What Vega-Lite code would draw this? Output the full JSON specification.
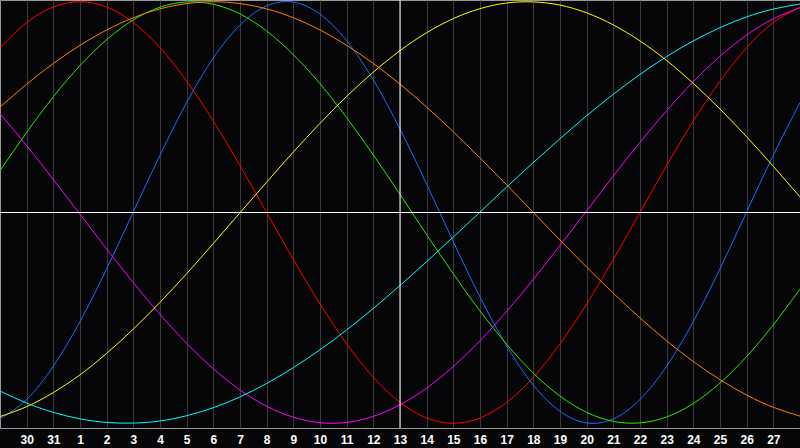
{
  "$schema": "https://vega.github.io/schema/vega-lite/v6.json",
  "width": 800,
  "height": 428,
  "autosize": "none",
  "padding": {"left": 0, "top": 0, "right": 0, "bottom": 20},
  "background": "#060608",
  "config": {
    "view": {"stroke": "#9a9a9a", "strokeWidth": 1, "fill": "#060608"},
    "axisX": {
      "grid": true, "gridColor": "#3a3a3a", "gridWidth": 1,
      "domain": false, "ticks": false, "tickSize": 0,
      "labelColor": "#ffffff", "labelFont": "Liberation Sans", "labelFontSize": 12, "labelFontWeight": "bold",
      "labelPadding": 15, "labelBaseline": "alphabetic", "labelFlush": false, "labelOverlap": false,
      "title": null
    }
  },
  "datasets": {
    "curves": [
      {"s":"Emotional","d":-1,"v":0.782},{"s":"Emotional","d":0,"v":0.901},{"s":"Emotional","d":1,"v":0.975},{"s":"Emotional","d":2,"v":1},{"s":"Emotional","d":3,"v":0.975},{"s":"Emotional","d":4,"v":0.901},{"s":"Emotional","d":5,"v":0.782},{"s":"Emotional","d":6,"v":0.623},{"s":"Emotional","d":7,"v":0.434},{"s":"Emotional","d":8,"v":0.223},{"s":"Emotional","d":9,"v":0},{"s":"Emotional","d":10,"v":-0.223},{"s":"Emotional","d":11,"v":-0.434},{"s":"Emotional","d":12,"v":-0.623},{"s":"Emotional","d":13,"v":-0.782},{"s":"Emotional","d":14,"v":-0.901},{"s":"Emotional","d":15,"v":-0.975},{"s":"Emotional","d":16,"v":-1},{"s":"Emotional","d":17,"v":-0.975},{"s":"Emotional","d":18,"v":-0.901},{"s":"Emotional","d":19,"v":-0.782},{"s":"Emotional","d":20,"v":-0.623},{"s":"Emotional","d":21,"v":-0.434},{"s":"Emotional","d":22,"v":-0.223},{"s":"Emotional","d":23,"v":0},{"s":"Emotional","d":24,"v":0.223},{"s":"Emotional","d":25,"v":0.434},{"s":"Emotional","d":26,"v":0.623},{"s":"Emotional","d":27,"v":0.782},{"s":"Emotional","d":28,"v":0.901},{"s":"Emotional","d":29,"v":0.975},
      {"s":"Physical","d":-1,"v":-0.979},{"s":"Physical","d":0,"v":-0.887},{"s":"Physical","d":1,"v":-0.729},{"s":"Physical","d":2,"v":-0.517},{"s":"Physical","d":3,"v":-0.267},{"s":"Physical","d":4,"v":0.003},{"s":"Physical","d":5,"v":0.272},{"s":"Physical","d":6,"v":0.522},{"s":"Physical","d":7,"v":0.733},{"s":"Physical","d":8,"v":0.889},{"s":"Physical","d":9,"v":0.98},{"s":"Physical","d":10,"v":0.998},{"s":"Physical","d":11,"v":0.941},{"s":"Physical","d":12,"v":0.815},{"s":"Physical","d":13,"v":0.629},{"s":"Physical","d":14,"v":0.396},{"s":"Physical","d":15,"v":0.134},{"s":"Physical","d":16,"v":-0.139},{"s":"Physical","d":17,"v":-0.401},{"s":"Physical","d":18,"v":-0.633},{"s":"Physical","d":19,"v":-0.819},{"s":"Physical","d":20,"v":-0.943},{"s":"Physical","d":21,"v":-0.998},{"s":"Physical","d":22,"v":-0.979},{"s":"Physical","d":23,"v":-0.887},{"s":"Physical","d":24,"v":-0.729},{"s":"Physical","d":25,"v":-0.517},{"s":"Physical","d":26,"v":-0.267},{"s":"Physical","d":27,"v":0.003},{"s":"Physical","d":28,"v":0.272},{"s":"Physical","d":29,"v":0.522},
      {"s":"Intellectual","d":-1,"v":0.199},{"s":"Intellectual","d":0,"v":0.38},{"s":"Intellectual","d":1,"v":0.549},{"s":"Intellectual","d":2,"v":0.697},{"s":"Intellectual","d":3,"v":0.82},{"s":"Intellectual","d":4,"v":0.914},{"s":"Intellectual","d":5,"v":0.974},{"s":"Intellectual","d":6,"v":0.999},{"s":"Intellectual","d":7,"v":0.988},{"s":"Intellectual","d":8,"v":0.942},{"s":"Intellectual","d":9,"v":0.861},{"s":"Intellectual","d":10,"v":0.749},{"s":"Intellectual","d":11,"v":0.611},{"s":"Intellectual","d":12,"v":0.45},{"s":"Intellectual","d":13,"v":0.273},{"s":"Intellectual","d":14,"v":0.086},{"s":"Intellectual","d":15,"v":-0.105},{"s":"Intellectual","d":16,"v":-0.291},{"s":"Intellectual","d":17,"v":-0.467},{"s":"Intellectual","d":18,"v":-0.625},{"s":"Intellectual","d":19,"v":-0.762},{"s":"Intellectual","d":20,"v":-0.871},{"s":"Intellectual","d":21,"v":-0.948},{"s":"Intellectual","d":22,"v":-0.991},{"s":"Intellectual","d":23,"v":-0.998},{"s":"Intellectual","d":24,"v":-0.97},{"s":"Intellectual","d":25,"v":-0.906},{"s":"Intellectual","d":26,"v":-0.809},{"s":"Intellectual","d":27,"v":-0.683},{"s":"Intellectual","d":28,"v":-0.533},{"s":"Intellectual","d":29,"v":-0.363},
      {"s":"Intuitive","d":-1,"v":0.469},{"s":"Intuitive","d":0,"v":0.317},{"s":"Intuitive","d":1,"v":0.156},{"s":"Intuitive","d":2,"v":-0.008},{"s":"Intuitive","d":3,"v":-0.173},{"s":"Intuitive","d":4,"v":-0.333},{"s":"Intuitive","d":5,"v":-0.483},{"s":"Intuitive","d":6,"v":-0.621},{"s":"Intuitive","d":7,"v":-0.741},{"s":"Intuitive","d":8,"v":-0.842},{"s":"Intuitive","d":9,"v":-0.919},{"s":"Intuitive","d":10,"v":-0.971},{"s":"Intuitive","d":11,"v":-0.997},{"s":"Intuitive","d":12,"v":-0.996},{"s":"Intuitive","d":13,"v":-0.967},{"s":"Intuitive","d":14,"v":-0.912},{"s":"Intuitive","d":15,"v":-0.833},{"s":"Intuitive","d":16,"v":-0.73},{"s":"Intuitive","d":17,"v":-0.608},{"s":"Intuitive","d":18,"v":-0.469},{"s":"Intuitive","d":19,"v":-0.317},{"s":"Intuitive","d":20,"v":-0.156},{"s":"Intuitive","d":21,"v":0.008},{"s":"Intuitive","d":22,"v":0.173},{"s":"Intuitive","d":23,"v":0.333},{"s":"Intuitive","d":24,"v":0.483},{"s":"Intuitive","d":25,"v":0.621},{"s":"Intuitive","d":26,"v":0.741},{"s":"Intuitive","d":27,"v":0.842},{"s":"Intuitive","d":28,"v":0.919},{"s":"Intuitive","d":29,"v":0.971},
      {"s":"Aesthetic","d":-1,"v":-0.968},{"s":"Aesthetic","d":0,"v":-0.921},{"s":"Aesthetic","d":1,"v":-0.854},{"s":"Aesthetic","d":2,"v":-0.77},{"s":"Aesthetic","d":3,"v":-0.668},{"s":"Aesthetic","d":4,"v":-0.553},{"s":"Aesthetic","d":5,"v":-0.426},{"s":"Aesthetic","d":6,"v":-0.29},{"s":"Aesthetic","d":7,"v":-0.147},{"s":"Aesthetic","d":8,"v":-0.001},{"s":"Aesthetic","d":9,"v":0.144},{"s":"Aesthetic","d":10,"v":0.287},{"s":"Aesthetic","d":11,"v":0.423},{"s":"Aesthetic","d":12,"v":0.551},{"s":"Aesthetic","d":13,"v":0.666},{"s":"Aesthetic","d":14,"v":0.768},{"s":"Aesthetic","d":15,"v":0.853},{"s":"Aesthetic","d":16,"v":0.92},{"s":"Aesthetic","d":17,"v":0.967},{"s":"Aesthetic","d":18,"v":0.994},{"s":"Aesthetic","d":19,"v":0.999},{"s":"Aesthetic","d":20,"v":0.984},{"s":"Aesthetic","d":21,"v":0.947},{"s":"Aesthetic","d":22,"v":0.89},{"s":"Aesthetic","d":23,"v":0.814},{"s":"Aesthetic","d":24,"v":0.721},{"s":"Aesthetic","d":25,"v":0.612},{"s":"Aesthetic","d":26,"v":0.491},{"s":"Aesthetic","d":27,"v":0.359},{"s":"Aesthetic","d":28,"v":0.219},{"s":"Aesthetic","d":29,"v":0.074},
      {"s":"Awareness","d":-1,"v":0.5},{"s":"Awareness","d":0,"v":0.609},{"s":"Awareness","d":1,"v":0.707},{"s":"Awareness","d":2,"v":0.793},{"s":"Awareness","d":3,"v":0.866},{"s":"Awareness","d":4,"v":0.924},{"s":"Awareness","d":5,"v":0.966},{"s":"Awareness","d":6,"v":0.991},{"s":"Awareness","d":7,"v":1},{"s":"Awareness","d":8,"v":0.991},{"s":"Awareness","d":9,"v":0.966},{"s":"Awareness","d":10,"v":0.924},{"s":"Awareness","d":11,"v":0.866},{"s":"Awareness","d":12,"v":0.793},{"s":"Awareness","d":13,"v":0.707},{"s":"Awareness","d":14,"v":0.609},{"s":"Awareness","d":15,"v":0.5},{"s":"Awareness","d":16,"v":0.383},{"s":"Awareness","d":17,"v":0.259},{"s":"Awareness","d":18,"v":0.131},{"s":"Awareness","d":19,"v":0},{"s":"Awareness","d":20,"v":-0.131},{"s":"Awareness","d":21,"v":-0.259},{"s":"Awareness","d":22,"v":-0.383},{"s":"Awareness","d":23,"v":-0.5},{"s":"Awareness","d":24,"v":-0.609},{"s":"Awareness","d":25,"v":-0.707},{"s":"Awareness","d":26,"v":-0.793},{"s":"Awareness","d":27,"v":-0.866},{"s":"Awareness","d":28,"v":-0.924},{"s":"Awareness","d":29,"v":-0.966},
      {"s":"Spiritual","d":-1,"v":-0.847},{"s":"Spiritual","d":0,"v":-0.904},{"s":"Spiritual","d":1,"v":-0.948},{"s":"Spiritual","d":2,"v":-0.979},{"s":"Spiritual","d":3,"v":-0.996},{"s":"Spiritual","d":4,"v":-0.999},{"s":"Spiritual","d":5,"v":-0.989},{"s":"Spiritual","d":6,"v":-0.964},{"s":"Spiritual","d":7,"v":-0.926},{"s":"Spiritual","d":8,"v":-0.875},{"s":"Spiritual","d":9,"v":-0.811},{"s":"Spiritual","d":10,"v":-0.736},{"s":"Spiritual","d":11,"v":-0.651},{"s":"Spiritual","d":12,"v":-0.557},{"s":"Spiritual","d":13,"v":-0.455},{"s":"Spiritual","d":14,"v":-0.346},{"s":"Spiritual","d":15,"v":-0.233},{"s":"Spiritual","d":16,"v":-0.116},{"s":"Spiritual","d":17,"v":0.002},{"s":"Spiritual","d":18,"v":0.121},{"s":"Spiritual","d":19,"v":0.237},{"s":"Spiritual","d":20,"v":0.35},{"s":"Spiritual","d":21,"v":0.459},{"s":"Spiritual","d":22,"v":0.561},{"s":"Spiritual","d":23,"v":0.655},{"s":"Spiritual","d":24,"v":0.74},{"s":"Spiritual","d":25,"v":0.814},{"s":"Spiritual","d":26,"v":0.877},{"s":"Spiritual","d":27,"v":0.928},{"s":"Spiritual","d":28,"v":0.965},{"s":"Spiritual","d":29,"v":0.989}
    ],
    "today": [{"d": 14, "v": 0}]
  },
  "layer": [
    {
      "data": {"name": "curves"},
      "mark": {"type": "line", "interpolate": "natural", "strokeWidth": 1},
      "encoding": {
        "x": {
          "field": "d", "type": "quantitative",
          "scale": {"domain": [-1, 29], "nice": false, "zero": false},
          "axis": {
            "values": [0,1,2,3,4,5,6,7,8,9,10,11,12,13,14,15,16,17,18,19,20,21,22,23,24,25,26,27,28],
            "labelOverlap": false,
            "labelExpr": "'' + (datum.value < 2 ? datum.value + 30 : datum.value - 1)"
          }
        },
        "y": {
          "field": "v", "type": "quantitative",
          "scale": {"domain": [-1.0223, 1.0081], "nice": false, "zero": false},
          "axis": null
        },
        "color": {
          "field": "s", "type": "nominal", "legend": null,
          "scale": {
            "domain": ["Spiritual", "Awareness", "Aesthetic", "Intuitive", "Intellectual", "Physical", "Emotional"],
            "range": ["#00ffff", "#ff8000", "#ffff00", "#ff00ff", "#22ee00", "#1a6cff", "#ff0000"]
          }
        },
        "order": {"field": "d", "type": "quantitative"}
      }
    },
    {
      "data": {"name": "today"},
      "mark": {"type": "rule", "color": "#ffffff", "strokeWidth": 1},
      "encoding": {"y": {"field": "v", "type": "quantitative"}}
    },
    {
      "data": {"name": "today"},
      "mark": {"type": "rule", "color": "#ffffff", "strokeWidth": 1},
      "encoding": {
        "x": {
          "field": "d", "type": "quantitative",
          "axis": {
            "values": [0,1,2,3,4,5,6,7,8,9,10,11,12,13,14,15,16,17,18,19,20,21,22,23,24,25,26,27,28],
            "labelOverlap": false,
            "labelExpr": "'' + (datum.value < 2 ? datum.value + 30 : datum.value - 1)"
          }
        }
      }
    }
  ]
}
